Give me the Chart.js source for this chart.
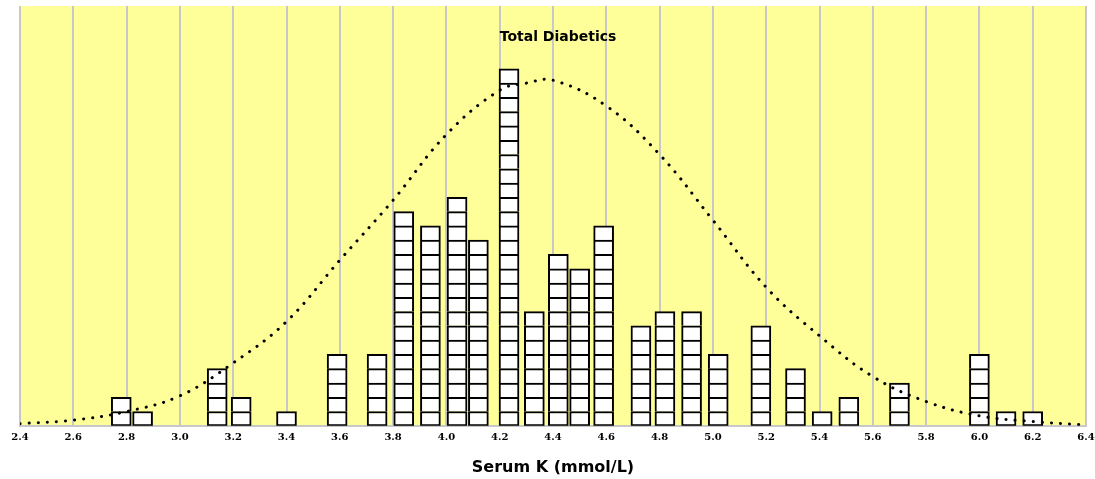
<!DOCTYPE html>
<html>
<head>
<meta charset="utf-8">
<script src="https://cdn.jsdelivr.net/npm/chart.js@4"></script>
<style>
  body { margin: 0; background: #fff; }
  #wrap { width: 1095px; height: 479px; }
</style>
</head>
<body>
<div id="wrap"><canvas id="histChart"></canvas></div>
<script>
// bin centres (mmol/L) and number of patients in each bin
const binCentres = [2.78, 2.86, 3.14, 3.23, 3.40, 3.59, 3.74, 3.84, 3.94, 4.04, 4.12, 4.235, 4.33, 4.42,
                    4.50, 4.59, 4.73, 4.82, 4.92, 5.02, 5.18, 5.31, 5.41, 5.51, 5.70, 6.00, 6.10, 6.20];
const binCounts  = [2, 1, 4, 2, 1, 5, 5, 15, 14, 16, 13, 25, 8, 12,
                    11, 14, 7, 8, 8, 5, 7, 4, 1, 2, 3, 5, 1, 1];

// fitted normal curve
const curveX = [2.4, 2.6, 2.8, 3.0, 3.2, 3.4, 3.6, 3.8, 4.0, 4.2, 4.3, 4.4, 4.6, 4.8, 5.0, 5.2, 5.4, 5.6, 5.8, 6.0, 6.2, 6.4];
const curveY = [0.15, 0.4, 1.0, 2.1, 4.4, 7.3, 11.6, 15.8, 20.4, 23.5, 24.0, 24.2, 22.4, 19.0, 14.4, 9.7, 6.3, 3.45, 1.7, 0.7, 0.3, 0.05];

const xTicks = [2.4, 2.6, 2.8, 3.0, 3.2, 3.4, 3.6, 3.8, 4.0, 4.2, 4.4, 4.6, 4.8, 5.0, 5.2, 5.4, 5.6, 5.8, 6.0, 6.2, 6.4];

Chart.defaults.font.family = "'DejaVu Sans', Verdana, sans-serif";
Chart.defaults.color = '#000';

// one dataset per box level, so every patient is a box
const maxCount = Math.max(...binCounts);
const boxSets = [];
for (let k = 0; k < maxCount; k++) {
    boxSets.push({
        type: 'bar',
        data: binCentres.map((x, i) => binCounts[i] > k ? {x: x, y: 1} : null).filter(p => p),
        backgroundColor: '#ffffff',
        borderColor: '#000000',
        borderWidth: 2,
        borderSkipped: k === 0 ? false : 'bottom',
        barThickness: 20,
        order: 1
    });
}

const curveSet = {
    type: 'line',
    data: curveX.map((x, i) => ({x: x, y: curveY[i]})),
    borderColor: '#000',
    borderWidth: 3,
    borderDash: [0.1, 9],
    borderCapStyle: 'round',
    pointRadius: 0,
    tension: 0.4,
    fill: false,
    stack: 'curve',
    order: 0
};

const plotBackground = {
    id: 'plotBackground',
    beforeDraw(chart) {
        const {ctx, chartArea: a} = chart;
        ctx.save();
        ctx.fillStyle = '#ffff99';
        ctx.fillRect(a.left, a.top, a.right - a.left, a.bottom - a.top);
        ctx.restore();
    },
    afterDraw(chart) {
        const {ctx, chartArea: a} = chart;
        ctx.save();
        ctx.font = "bold 14px 'DejaVu Sans', Verdana, sans-serif";
        ctx.fillStyle = '#000';
        ctx.textAlign = 'center';
        ctx.textBaseline = 'middle';
        ctx.fillText('Total Diabetics', (a.left + a.right) / 2 + 5, 37);
        ctx.restore();
    }
};

const ctx = document.getElementById('histChart').getContext('2d');
let histChart = new Chart(ctx, {
    data: {
        datasets: [curveSet, ...boxSets]
    },
    options: {
        responsive: true,
        maintainAspectRatio: false,
        animation: false,
        layout: {padding: {top: 6, left: 20, right: 9, bottom: 2}},
        plugins: {
            legend: {display: false},
            tooltip: {enabled: false}
        },
        scales: {
            x: {
                type: 'linear',
                min: 2.4,
                max: 6.4,
                offset: false,
                stacked: true,
                afterBuildTicks: axis => { axis.ticks = xTicks.map(v => ({value: v})); },
                afterFit: axis => { axis.paddingLeft = 0; axis.paddingRight = 0; },
                ticks: {
                    callback: v => v.toFixed(1),
                    font: {family: "'DejaVu Serif', serif", size: 10, weight: 'bold'},
                    padding: 6,
                    maxRotation: 0,
                    autoSkip: false
                },
                grid: {color: '#c8c8c8', lineWidth: 2, drawTicks: false, offset: false},
                border: {display: true, color: '#c8c8c8', width: 2},
                title: {
                    display: true,
                    text: 'Serum K (mmol/L)',
                    font: {size: 16, weight: 'bold'},
                    padding: {top: 8, bottom: 0}
                }
            },
            y: {
                display: false,
                stacked: true,
                min: 0,
                max: 29.4
            }
        }
    },
    plugins: [plotBackground]
});
</script>
</body>
</html>
